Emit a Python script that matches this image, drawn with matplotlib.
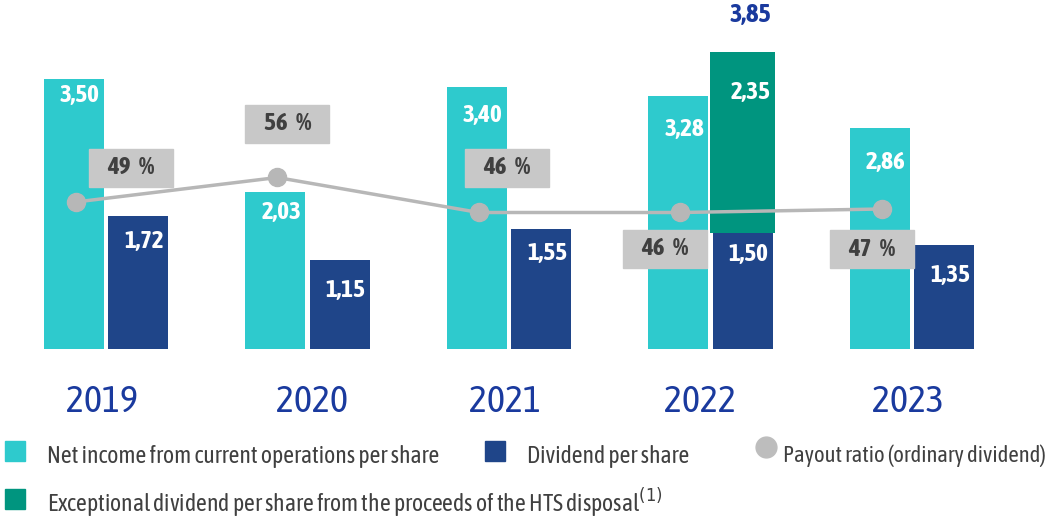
import matplotlib
matplotlib.use("Agg")
import matplotlib.pyplot as plt
from matplotlib.patches import Rectangle
from matplotlib.lines import Line2D
from matplotlib.transforms import IdentityTransform
from matplotlib import font_manager as fm
import matplotlib.patheffects as pe
import numpy as np

# ---------------- data ----------------
years = ["2019", "2020", "2021", "2022", "2023"]
net_income = [3.50, 2.03, 3.40, 3.28, 2.86]
dividend = [1.72, 1.15, 1.55, 1.50, 1.35]
exceptional = [0, 0, 0, 2.35, 0]
payout = [49, 56, 46, 46, 47]

net_income_labels = ["3,50", "2,03", "3,40", "3,28", "2,86"]
dividend_labels = ["1,72", "1,15", "1,55", "1,50", "1,35"]
exceptional_label = "2,35"
total_label = "3,85"
payout_labels = ["49 %", "56 %", "46 %", "46 %", "47 %"]

# ---------------- font choice ----------------
fams = {}
for f in fm.fontManager.ttflist:
    fams.setdefault(f.name, set()).add(f.weight)
narrow = sorted(n for n in fams if ("Narrow" in n or "Condensed" in n))
if narrow:
    def wmax(n):
        ws = [w if isinstance(w, (int, float)) else 400 for w in fams[n]]
        return max(ws)
    narrow.sort(key=lambda n: -wmax(n))
    FAM = narrow[0]
    SC = 1.0
    HAS_BOLD = wmax(FAM) >= 600
else:
    FAM = "Liberation Sans"
    SC = 0.82
    HAS_BOLD = True
plt.rcParams["font.family"] = [FAM, "DejaVu Sans"]

def boldfx(color):
    if HAS_BOLD:
        return dict(fontweight="bold")
    return dict(path_effects=[pe.withStroke(linewidth=1.3, foreground=color)])

# ---------------- style ----------------
C_CYAN = "#2ECACD"
C_BLUE = "#1F4589"
C_TEAL = "#00957F"
C_GRAY = "#B7B7B7"
C_BOX = "#C8C8C8"
C_YEAR = "#1A3A9E"
C_TXT = "#404040"

W, H = 1056, 520
fig = plt.figure(figsize=(W / 100, H / 100), dpi=100)

base_px = 171          # baseline, px from bottom
px_per_unit = 77.1
grp0, grp_step = 106.0, 201.5
ax = fig.add_axes([0, base_px / H, 1, 1 - base_px / H])
ax.set_xlim((0 - grp0) / grp_step, (W - grp0) / grp_step)
ax.set_ylim(0, (H - base_px) / px_per_unit)
for s in ax.spines.values():
    s.set_visible(False)
ax.set_yticks([])

x = np.arange(len(years))
off = 0.16
bw = 0.298
ax.bar(x - off, net_income, bw, color=C_CYAN, zorder=2)
ax.bar(x + off, dividend, bw, color=C_BLUE, zorder=2)
ex = np.array(exceptional)
mask = ex > 0
ax.bar(x[mask] + off, ex[mask], 0.322, bottom=np.array(dividend)[mask],
       color=C_TEAL, zorder=2)

year_dx = [-0.02, 0.02, -0.02, -0.05, -0.02]
ax.set_xticks(x + np.array(year_dx))
ax.set_xticklabels(years, fontsize=27.5 * SC, color=C_YEAR)
ax.tick_params(axis="x", length=0, pad=25)

VS = 18 * SC
# value labels (offsets in pixels below bar top)
ni_dy = [-16, -20, -29, -33, -34]
dv_dy = [-25, -30, -24, -21, -31]
for i in range(len(years)):
    ax.annotate(net_income_labels[i], (x[i] - off + 0.03, net_income[i]),
                xytext=(0, ni_dy[i]), textcoords="offset pixels",
                ha="center", va="center", color="white", fontsize=VS,
                zorder=5, **boldfx("white"))
    ax.annotate(dividend_labels[i], (x[i] + off + 0.03, dividend[i]),
                xytext=(0, dv_dy[i]), textcoords="offset pixels",
                ha="center", va="center", color="white", fontsize=VS,
                zorder=5, **boldfx("white"))
for i in np.where(mask)[0]:
    top = dividend[i] + exceptional[i]
    ax.annotate(exceptional_label, (x[i] + off + 0.04, top),
                xytext=(0, -40), textcoords="offset pixels",
                ha="center", va="center", color="white", fontsize=VS,
                zorder=5, **boldfx("white"))
    ax.annotate(total_label, (x[i] + off + 0.04, top),
                xytext=(0, 38), textcoords="offset pixels",
                ha="center", va="center", color=C_YEAR, fontsize=VS * 1.05,
                zorder=5, **boldfx(C_YEAR))

# payout ratio line
ax2 = ax.twinx()
ax2.set_position(ax.get_position())
ax2.set_ylim(7, 7 + (H - base_px) / 3.5)
ax2.set_yticks([])
for s in ax2.spines.values():
    s.set_visible(False)
ax2.plot(x - 0.15, payout, color=C_GRAY, lw=2.5, marker="o", ms=13,
         markerfacecolor=C_GRAY, markeredgecolor=C_GRAY, zorder=3)
box_off = [(55, 34), (10, 54), (28, 45), (-15, -36), (-10, -40)]
BW_, BH_ = 84, 38
for i in range(len(years)):
    px, py = ax2.transData.transform((x[i] - 0.15, payout[i]))
    cx, cy = px + box_off[i][0], py + box_off[i][1]
    r = Rectangle((cx - BW_ / 2, cy - BH_ / 2), BW_, BH_, color=C_BOX,
                  transform=IdentityTransform(), zorder=5, clip_on=False)
    ax2.add_artist(r)
    ax2.annotate(payout_labels[i].replace(" ", "\u2009 "), (x[i] - 0.15, payout[i]),
                 xytext=box_off[i], textcoords="offset pixels",
                 ha="center", va="center", color=C_TXT, fontsize=VS,
                 zorder=6, **boldfx(C_TXT))

# ---------------- legend (manual) ----------------
def sq(x0, y0, color):
    fig.patches.append(Rectangle((x0 / W, 1 - (y0 + 20) / H), 20 / W, 20 / H,
                                 transform=fig.transFigure, color=color))

sq(5, 441, C_CYAN)
sq(485, 441, C_BLUE)
sq(5, 489, C_TEAL)
fig.lines.append(Line2D([766 / W], [1 - 447 / H], marker="o", ms=15,
                        color="#BDBDBD", transform=fig.transFigure))
lk = dict(fontsize=17.0 * SC, color=C_TXT, va="center", ha="left")
fig.text(47 / W, 1 - 456 / H, "Net income from current operations per share", **lk)
fig.text(527 / W, 1 - 456 / H, "Dividend per share", **lk)
fig.text(783 / W, 1 - 456 / H, "Payout ratio (ordinary dividend)",
         **{**lk, "fontsize": 16.3 * SC})
fig.text(47 / W, 1 - 503 / H,
         "Exceptional dividend per share from the proceeds of the HTS disposal$^{(1)}$",
         **lk)

fig.savefig("out.png", dpi=100)
